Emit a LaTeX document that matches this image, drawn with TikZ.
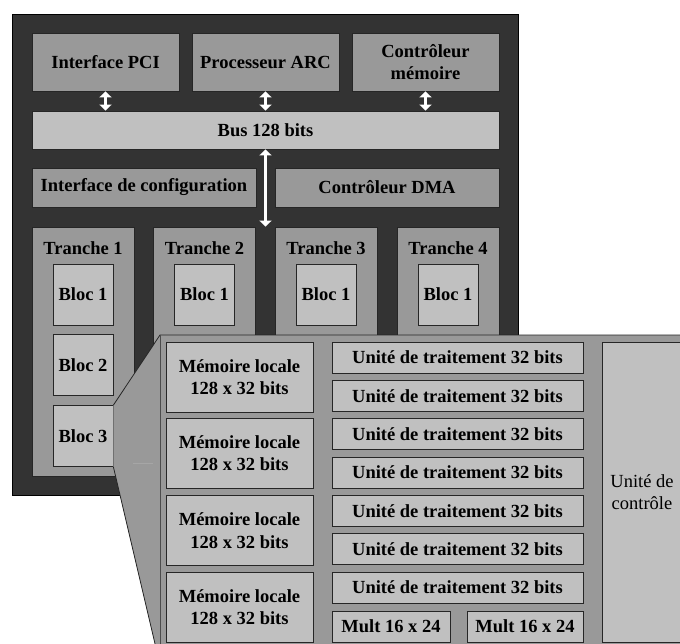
\documentclass[tikz,border=0pt]{standalone}
\usepackage{fontspec}
\setmainfont{Liberation Serif}
\usetikzlibrary{arrows.meta}
\definecolor{fonce}{HTML}{333333}
\definecolor{moyen}{HTML}{999999}
\definecolor{clair}{HTML}{C0C0C0}
\tikzset{
  bloc/.style={draw=black!85, line width=0.8pt, inner sep=0pt, align=center,
    font=\fontsize{18.5}{22.5}\selectfont\bfseries},
  moyenbox/.style={bloc, fill=moyen},
  clairbox/.style={bloc, fill=clair},
  titre/.style={inner sep=0pt, font=\fontsize{18.5}{22.5}\selectfont\bfseries},
  fleche/.style={draw=white, line width=2.5pt,
    {Triangle[length=6pt,width=12pt]}-{Triangle[length=6pt,width=12pt]}},
}
\begin{document}
\begin{tikzpicture}[x=1pt,y=-1pt]
  \useasboundingbox (0,0) rectangle (680,644);
  \clip (0,0) rectangle (680,644);
  % puce
  \draw[fill=fonce, draw=black, line width=0.8pt] (12,14) rectangle (518,495);
  \node[moyenbox, minimum width=147pt, minimum height=58pt] (pci) at (105.5,62) {Interface PCI};
  \node[moyenbox, minimum width=147pt, minimum height=58pt] (arc) at (265.5,62) {Processeur ARC};
  \node[moyenbox, minimum width=147pt, minimum height=58pt] (ctlmem) at (425.5,62) {Contrôleur\\mémoire};
  \node[clairbox, minimum width=467pt, minimum height=38pt] (bus) at (265.5,130) {Bus 128 bits};
  \node[moyenbox, minimum width=224pt, minimum height=39pt] (cfg) at (144,187.5) {Interface de configuration};
  \node[moyenbox, minimum width=224pt, minimum height=39pt] (dma) at (387,187.5) {Contrôleur DMA};
  % tranches
  \foreach \i/\x in {1/83,2/204.5,3/326,4/448} {
    \node[moyenbox, minimum width=102pt, minimum height=249pt] (t\i) at (\x,351.5) {};
    \node[titre] (tt\i) at (\x,248) {Tranche \i};
    \node[clairbox, minimum width=60pt, minimum height=61pt] (t\i-b1) at (\x,294.5) {Bloc 1};
  }
  \node[clairbox, minimum width=60pt, minimum height=61pt] (t1-b2) at (83,365) {Bloc 2};
  \node[clairbox, minimum width=60pt, minimum height=61pt] (t1-b3) at (83,436) {Bloc 3};
  % liaisons
  \draw[fleche] (pci.south) -- (pci.south |- bus.north);
  \draw[fleche] (arc.south) -- (arc.south |- bus.north);
  \draw[fleche] (ctlmem.south) -- (ctlmem.south |- bus.north);
  \draw[fleche] (bus.south) -- (bus.south |- t2.north);
  % agrandissement du bloc 3
  \fill[moyen] (t1-b3.north east) -- (160,335) -- (700,335) -- (700,700) -- (160,665)
    -- (t1-b3.south east) -- cycle;
  \draw[black!85, line width=0.8pt] (t1-b3.north east) -- (160,335) -- (700,335);
  \draw[black!85, line width=0.8pt] (t1-b3.south east) -- (160,665);
  \draw[black!70, line width=0.6pt] (160,335) -- (160,700);
  \draw[black!35, line width=0.6pt] (133,463) -- (153,463);
  \foreach \k/\y in {1/377,2/453,3/530.5,4/607}
    \node[clairbox, minimum width=147pt, minimum height=70pt] (mem\k) at (239.5,\y) {Mémoire locale\\128 x 32 bits};
  \foreach \k in {1,...,7}
    \node[clairbox, minimum width=251pt, minimum height=31pt] (ut\k) at (457.5,{357.5+(\k-1)*38.33}) {Unité de traitement 32 bits};
  \node[clairbox, minimum width=118pt, minimum height=31pt] (mult1) at (391,626.5) {Mult 16 x 24};
  \node[clairbox, minimum width=116pt, minimum height=31pt] (mult2) at (525,626.5) {Mult 16 x 24};
  \node[clairbox, minimum width=80pt, minimum height=300pt, font=\fontsize{18.5}{22.5}\selectfont] (ctrl) at (642,492) {Unité de\\contrôle};
\end{tikzpicture}
\end{document}
